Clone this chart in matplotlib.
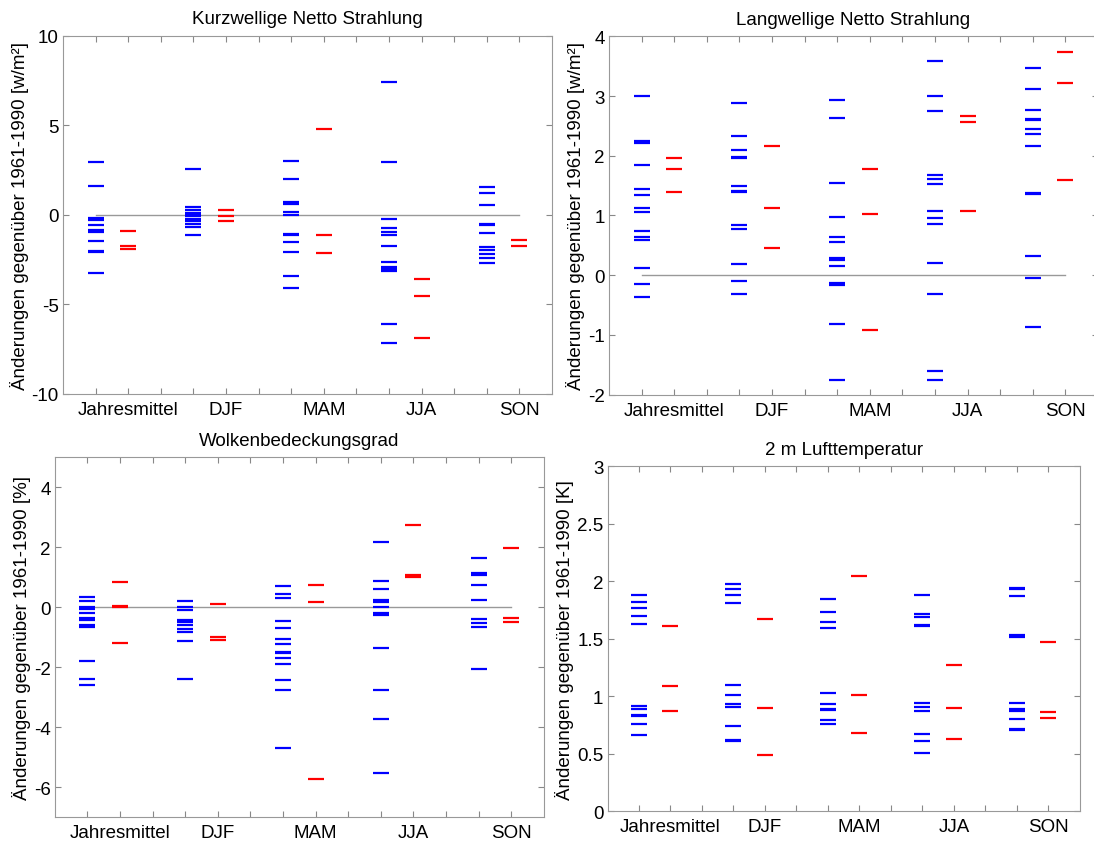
import matplotlib
matplotlib.use('Agg')
import matplotlib.pyplot as plt

plt.rcParams['font.family'] = ['Liberation Sans', 'DejaVu Sans']
plt.rcParams['axes.unicode_minus'] = False

## categories ##
kategorien = ['Jahresmittel', 'DJF', 'MAM', 'JJA', 'SON']

## Kurzwellige Netto Strahlung ##
kurz_blau = [
	[2.92, 1.59, -0.19, -0.32, -0.56, -0.86, -0.95, -1.46, -2.0, -2.1, -3.24],
	[2.57, 0.45, 0.28, 0.1, 0.0, -0.1, -0.22, -0.37, -0.5, -0.71, -1.12],
	[2.98, 2.0, 0.72, 0.6, 0.13, -0.04, -1.1, -1.15, -1.55, -2.06, -3.45, -4.12],
	[7.4, 2.94, -0.24, -0.75, -0.97, -1.16, -1.74, -2.62, -2.9, -3.05, -3.15, -6.09, -7.19],
	[1.57, 1.24, 0.54, -0.5, -0.6, -1.01, -1.78, -1.97, -2.19, -2.4, -2.68],
]
kurz_rot = [
	[-0.92, -1.74, -1.93],
	[0.24, -0.06, -0.37],
	[4.78, -1.12, -2.12],
	[-3.6, -4.55, -6.91],
	[-1.44, -1.74],
]

## Langwellige Netto Strahlung ##
lang_blau = [
	[3.0, 2.25, 2.22, 1.84, 1.45, 1.35, 1.13, 1.05, 0.74, 0.64, 0.59, 0.12, -0.15, -0.37],
	[2.88, 2.33, 2.09, 1.98, 1.96, 1.5, 1.41, 1.39, 0.84, 0.78, 0.18, -0.09, -0.31],
	[2.93, 2.64, 1.55, 0.97, 0.64, 0.55, 0.28, 0.26, 0.15, -0.13, -0.16, -0.82, -1.76],
	[3.58, 3.0, 2.75, 1.68, 1.61, 1.53, 1.08, 0.96, 0.85, 0.2, -0.32, -1.6, -1.76],
	[3.47, 3.11, 2.77, 2.62, 2.6, 2.45, 2.37, 2.17, 1.38, 1.36, 0.32, -0.04, -0.87],
]
lang_rot = [
	[1.97, 1.77, 1.39],
	[2.17, 1.12, 0.46],
	[1.77, 1.02, -0.92],
	[2.67, 2.57, 1.07],
	[3.73, 3.22, 1.6],
]

## Wolkenbedeckungsgrad ##
wolken_blau = [
	[0.34, 0.2, 0.02, -0.05, -0.2, -0.35, -0.42, -0.6, -0.67, -1.79, -2.38, -2.6],
	[0.21, 0.0, -0.08, -0.41, -0.5, -0.59, -0.72, -0.83, -1.12, -2.39],
	[0.71, 0.44, 0.3, -0.46, -0.69, -1.04, -1.23, -1.48, -1.52, -1.7, -1.89, -2.42, -2.77, -4.68],
	[2.17, 0.88, 0.6, 0.24, 0.19, 0.02, -0.19, -0.26, -1.37, -2.77, -3.71, -5.54],
	[1.64, 1.13, 1.08, 0.76, 0.23, -0.39, -0.51, -0.66, -2.06],
]
wolken_rot = [
	[0.84, 0.05, 0.02, -1.18],
	[0.11, -1.0, -1.09],
	[0.74, 0.17, -5.72],
	[2.76, 1.08, 1.02],
	[1.99, -0.37, -0.49],
]

## 2 m Lufttemperatur ##
temp_blau = [
	[1.88, 1.82, 1.77, 1.7, 1.63, 0.92, 0.89, 0.84, 0.83, 0.76, 0.66],
	[1.98, 1.93, 1.88, 1.81, 1.1, 1.01, 0.93, 0.91, 0.74, 0.62, 0.61],
	[1.85, 1.73, 1.65, 1.59, 1.03, 0.93, 0.89, 0.88, 0.79, 0.76],
	[1.88, 1.72, 1.69, 1.62, 1.61, 0.94, 0.91, 0.87, 0.67, 0.61, 0.51],
	[1.94, 1.93, 1.87, 1.53, 1.52, 0.94, 0.89, 0.87, 0.8, 0.72, 0.71],
]
temp_rot = [
	[1.61, 1.09, 0.87],
	[1.67, 0.9, 0.49],
	[2.05, 1.01, 0.68],
	[1.27, 0.9, 0.63],
	[1.47, 0.86, 0.81],
]

## figure ##
W, H = 1094, 845
fig = plt.figure(figsize=(W / 100, H / 100), dpi=100)
FS = 13.5

def box(l, r, t, b):
	return [l / W, 1 - b / H, (r - l) / W, (b - t) / H]

def panel(rect, blau, rot, titel, einheit, ylim, yticks, ylabels, nulllinie=True, lpad=2):
	ax = fig.add_axes(rect)
	if nulllinie:
		ax.plot([1, 14], [0, 0], color='#999999', linewidth=1.0, zorder=1)
	for i in range(5):
		xb = 1 + 3 * i
		ax.plot([xb] * len(blau[i]), blau[i], linestyle='none', marker='_',
			markersize=12, markeredgewidth=1.6, color='#0000ff', zorder=2)
		ax.plot([xb + 1] * len(rot[i]), rot[i], linestyle='none', marker='_',
			markersize=12, markeredgewidth=1.6, color='#ff0000', zorder=2)
	ax.set_xlim(0, 15)
	ax.set_ylim(*ylim)
	ax.set_xticks(range(1, 15))
	labels = [''] * 14
	for i, k in enumerate(kategorien):
		labels[1 + 3 * i] = k
	ax.set_xticklabels(labels, fontsize=FS)
	ax.set_yticks(yticks)
	ax.set_yticklabels(ylabels, fontsize=FS)
	ax.tick_params(direction='in', top=True, right=True, length=4,
		color='#888888', pad=3)
	ax.tick_params(axis='x', pad=5)
	for s in ax.spines.values():
		s.set_color('#999999')
		s.set_linewidth(0.8)
	ax.set_title(titel, fontsize=FS, pad=9)
	ax.set_ylabel(u'Änderungen gegenüber 1961-1990 ' + einheit, fontsize=FS, labelpad=lpad)
	return ax

panel(box(63, 552, 36.7, 394.7), kurz_blau, kurz_rot, 'Kurzwellige Netto Strahlung',
	u'[w/m²]', (-10, 10), [-10, -5, 0, 5, 10], ['-10', '-5', '0', '5', '10'])
panel(box(609, 1098, 37.3, 395.6), lang_blau, lang_rot, 'Langwellige Netto Strahlung',
	u'[w/m²]', (-2, 4), [-2, -1, 0, 1, 2, 3, 4], ['-2', '-1', '0', '1', '2', '3', '4'])
panel(box(54.7, 543.7, 458.3, 818.3), wolken_blau, wolken_rot, 'Wolkenbedeckungsgrad',
	'[%]', (-7, 5), [-6, -4, -2, 0, 2, 4], ['-6', '-4', '-2', '0', '2', '4'])
panel(box(607.5, 1079.8, 467.3, 812.3), temp_blau, temp_rot, '2 m Lufttemperatur',
	'[K]', (0, 3), [0, 0.5, 1, 1.5, 2, 2.5, 3], ['0', '0.5', '1', '1.5', '2', '2.5', '3'],
	nulllinie=False)

fig.savefig('out.png', dpi=100)
